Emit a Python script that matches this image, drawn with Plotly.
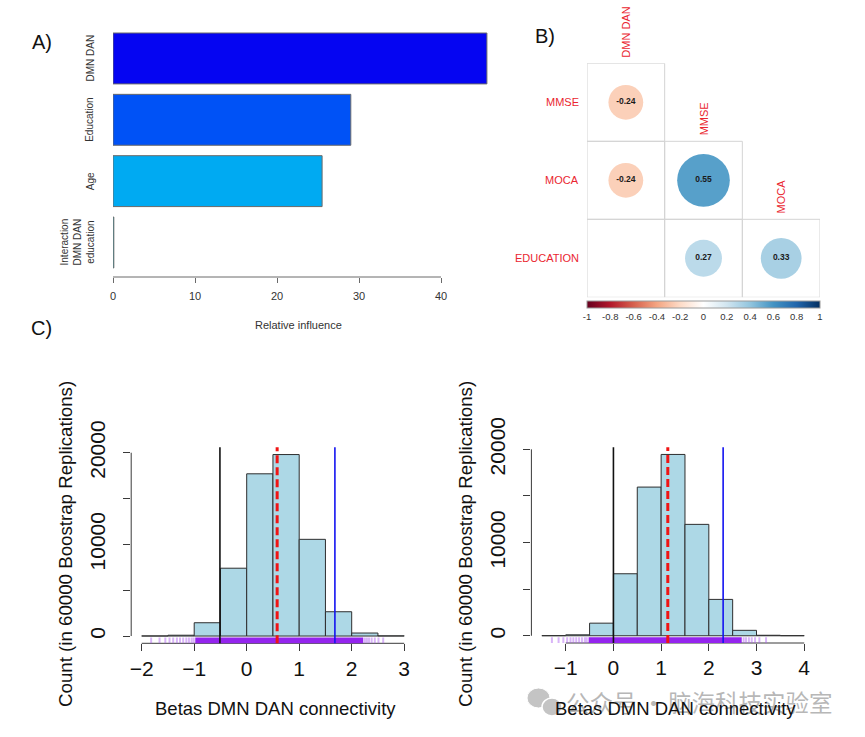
import plotly.graph_objects as go
import math

W, H = 865, 737
FONT = "Liberation Sans, Arial, Helvetica, sans-serif"


def fx(p):
    return p / W


def fy(p):
    return 1 - p / H


# ---------------- Panel A data: relative influence ----------------
infl_vars = ["DMN DAN", "Education", "Age", "Interaction<br>DMN DAN<br>education"]
infl_vals = [45.6, 29.0, 25.5, 0.1]
infl_colors = ["#0505F2", "#0052F6", "#00AAF2", "#00E5FF"]
infl_ticks = [0, 10, 20, 30, 40]

# ---------------- Panel B data: correlation matrix ----------------
corr_rows = ["MMSE", "MOCA", "EDUCATION"]
corr_cols = ["DMN DAN", "MMSE", "MOCA"]
corr_vals = [
    [-0.24, None, None],
    [-0.24, 0.55, None],
    [None, 0.27, 0.33],
]
cbar_ticks = [-1, -0.8, -0.6, -0.4, -0.2, 0, 0.2, 0.4, 0.6, 0.8, 1]
rdbu = ["#67001F", "#B2182B", "#D6604D", "#F4A582", "#FDDBC7", "#FFFFFF",
        "#D1E5F0", "#92C5DE", "#4393C3", "#2166AC", "#053061"]

# ---------------- Panel C data: bootstrap histograms ----------------
hist_edges_left = [-2, -1.5, -1, -0.5, 0, 0.5, 1, 1.5, 2, 2.5, 3]
hist_counts_left = [10, 90, 1450, 7400, 17700, 19800, 10550, 2650, 330, 20]
ci_left = [-0.51, 0.58, 1.68]          # lower, mean, upper
rug_dense_left = [-0.98, 2.22]
rug_tail_left = [-1.82, -1.66, -1.55, -1.47, -1.40, -1.33, -1.27, -1.21, -1.15,
                 -1.10, -1.05, -1.01, 2.25, 2.29, 2.33, 2.38, 2.44, 2.51, 2.60]
xticks_left = [-2, -1, 0, 1, 2, 3]

hist_edges_right = [-1.5, -1, -0.5, 0, 0.5, 1, 1.5, 2, 2.5, 3, 3.5, 4]
hist_counts_right = [10, 100, 1350, 6650, 15950, 19450, 11950, 3900, 580, 50, 10]
ci_right = [0.0, 1.14, 2.30]
rug_dense_right = [-0.52, 2.69]
rug_tail_right = [-1.29, -1.15, -1.05, -0.97, -0.90, -0.84, -0.78, -0.72, -0.66,
                  -0.60, -0.56, 2.73, 2.78, 2.84, 2.90, 2.97, 3.06, 3.20]
xticks_right = [-1, 0, 1, 2, 3, 4]

yticks_hist = [0, 5000, 10000, 15000, 20000]
ytick_text_hist = ["0", "", "10000", "", "20000"]
hist_xtitle = "Betas DMN DAN connectivity"
hist_ytitle = "Count (in 60000 Boostrap Replications)"

fig = go.Figure()
shapes = []
annotations = []

# ---------- Panel A ----------
fig.add_trace(go.Bar(
    x=infl_vals, y=list(range(len(infl_vars))), orientation="h",
    width=0.83, marker=dict(color=infl_colors, line=dict(color="#6A6A6A", width=1)),
    xaxis="x", yaxis="y", showlegend=False, hoverinfo="skip"))
shapes.append(dict(type="line", xref="x", yref="y domain", x0=infl_ticks[0], x1=infl_ticks[-1],
                   y0=0, y1=0, line=dict(color="#6A6A6A", width=1)))
for i, name in enumerate(infl_vars):
    annotations.append(dict(text=name, xref="paper", yref="y", x=fx(97.5), y=i,
                            xanchor="right", yanchor="middle", textangle=-90, showarrow=False,
                            font=dict(family=FONT, size=10, color="#333")))
annotations.append(dict(text="Relative influence", xref="paper", yref="paper", x=fx(298), y=fy(325),
                        xanchor="center", yanchor="middle", showarrow=False,
                        font=dict(family=FONT, size=11, color="#333")))

# ---------- Panel B ----------
bx, by, bs, bt, bc = [], [], [], [], []
for r, row in enumerate(corr_vals):
    for c, v in enumerate(row):
        if c <= r:
            shapes.append(dict(type="rect", xref="x2", yref="y2", x0=c - 0.5, x1=c + 0.5,
                               y0=r - 0.5, y1=r + 0.5, line=dict(color="#D4D4D4", width=1),
                               layer="below"))
        if v is not None:
            bx.append(c)
            by.append(r)
            bs.append(71 * math.sqrt(abs(v)))
            bt.append("<b>%.2f</b>" % v)
            bc.append(v)
colorscale = [[i / (len(rdbu) - 1), col] for i, col in enumerate(rdbu)]
fig.add_trace(go.Scatter(
    x=bx, y=by, mode="markers+text", text=bt, textposition="middle center",
    textfont=dict(family=FONT, size=8.5, color="#1A1A1A"),
    marker=dict(size=bs, color=bc, cmin=-1, cmax=1, colorscale=colorscale,
                line=dict(width=0), opacity=1,
                colorbar=dict(orientation="h", lenmode="pixels", len=233, thickness=7,
                              x=fx(703.5), xanchor="center", y=fy(300.5), yanchor="top",
                              xpad=0, ypad=0, outlinewidth=1, outlinecolor="#9A9A9A",
                              tickvals=cbar_ticks, ticktext=["%g" % t for t in cbar_ticks],
                              ticks="", tickfont=dict(family=FONT, size=9.5, color="#333"))),
    xaxis="x2", yaxis="y2", showlegend=False, hoverinfo="skip"))
red = "#EA2630"
for r, name in enumerate(corr_rows):
    annotations.append(dict(text=name, xref="x2", yref="y2", x=-0.5, y=r, xshift=-6,
                            xanchor="right", yanchor="middle", showarrow=False,
                            font=dict(family=FONT, size=11, color=red)))
for c, name in enumerate(corr_cols):
    annotations.append(dict(text=name, xref="x2", yref="y2", x=c, y=c - 0.5, yshift=4,
                            xanchor="center", yanchor="bottom", textangle=-90, showarrow=False,
                            font=dict(family=FONT, size=11, color=red)))


# ---------- Panel C ----------
def add_hist(edges, counts, ci, rug_dense, rug_tail, xticks, xa, ya):
    centers = [(edges[i] + edges[i + 1]) / 2 for i in range(len(counts))]
    widths = [edges[i + 1] - edges[i] for i in range(len(counts))]
    fig.add_trace(go.Bar(x=centers, y=counts, width=widths, xaxis=xa, yaxis=ya,
                         marker=dict(color="#ADD8E6", line=dict(color="#2E2E2E", width=1)),
                         showlegend=False, hoverinfo="skip"))
    xd = xa + " domain"
    yd = ya + " domain"
    # axis lines (R style: from first to last tick)
    shapes.append(dict(type="line", xref=xa, yref=yd, x0=xticks[0], x1=xticks[-1], y0=0, y1=0,
                       line=dict(color="#3A3A3A", width=1)))
    shapes.append(dict(type="line", xref=xd, yref=ya, x0=0, x1=0, y0=yticks_hist[0],
                       y1=yticks_hist[-1], line=dict(color="#3A3A3A", width=1)))
    # rug
    shapes.append(dict(type="rect", xref=xa, yref=yd, x0=rug_dense[0], x1=rug_dense[1],
                       y0=0.0, y1=0.03, fillcolor="#9424EE", line=dict(width=0), layer="above"))
    for t in rug_tail:
        shapes.append(dict(type="line", xref=xa, yref=yd, x0=t, x1=t, y0=0.0, y1=0.03,
                           line=dict(color="rgba(170,90,240,0.45)", width=2), layer="above"))
    # CI / mean lines
    styles = [dict(color="#111111", width=1.6), dict(color="#F01414", width=3, dash="8px,4px"),
              dict(color="#1414F0", width=1.6)]
    for v, st in zip(ci, styles):
        shapes.append(dict(type="line", xref=xa, yref=yd, x0=v, x1=v, y0=0, y1=1,
                           line=st, layer="above"))


add_hist(hist_edges_left, hist_counts_left, ci_left, rug_dense_left, rug_tail_left,
         xticks_left, "x3", "y3")
add_hist(hist_edges_right, hist_counts_right, ci_right, rug_dense_right, rug_tail_right,
         xticks_right, "x4", "y4")


def xr(edges):
    span = edges[-1] - edges[0]
    return [edges[0] - 0.04 * span, edges[-1] + 0.04 * span]


def yr(counts):
    m = max(counts)
    return [-0.04 * m, 1.04 * m]


# watermark
shapes.append(dict(type="circle", xref="paper", yref="paper", x0=fx(527), x1=fx(550),
                   y0=fy(708), y1=fy(688), fillcolor="#C4C4C4", line=dict(color="white", width=1)))
shapes.append(dict(type="circle", xref="paper", yref="paper", x0=fx(542), x1=fx(562),
                   y0=fy(716), y1=fy(698), fillcolor="#C4C4C4", line=dict(color="white", width=1.5)))
wm_font = dict(family="Noto Sans CJK SC", size=23.5, color="rgba(160,160,160,0.75)")
annotations.append(dict(text="公众号 ·", xref="paper", yref="paper", x=fx(564), y=fy(702),
                        xanchor="left", yanchor="middle", showarrow=False, font=wm_font))
annotations.append(dict(text="脑海科技实验室", xref="paper", yref="paper", x=fx(666), y=fy(702),
                        xanchor="left", yanchor="middle", showarrow=False, font=wm_font))

for cx in (275, 675):
    annotations.append(dict(text=hist_xtitle, xref="paper", yref="paper", x=fx(cx), y=fy(708),
                            xanchor="center", yanchor="middle", showarrow=False,
                            font=dict(family=FONT, size=18.5, color="#111")))
for cx in (65, 465):
    annotations.append(dict(text=hist_ytitle, xref="paper", yref="paper", x=fx(cx), y=fy(544),
                            xanchor="center", yanchor="middle", textangle=-90, showarrow=False,
                            font=dict(family=FONT, size=18.7, color="#111")))

for lab, (px, py) in {"A)": (42, 42), "B)": (545, 36), "C)": (41, 328)}.items():
    annotations.append(dict(text=lab, xref="paper", yref="paper", x=fx(px), y=fy(py),
                            xanchor="center", yanchor="middle", showarrow=False,
                            font=dict(family=FONT, size=20, color="#111")))

common_hidden = dict(showgrid=False, zeroline=False, showline=False, automargin=False)
hist_x = dict(showgrid=False, zeroline=False, showline=False, automargin=False, ticks="outside",
              ticklen=7, tickcolor="#3A3A3A", tickfont=dict(family=FONT, size=21, color="#111"),
              ticklabelstandoff=-1)
hist_y = dict(showgrid=False, zeroline=False, showline=False, automargin=False, ticks="outside",
              ticklen=7, tickcolor="#3A3A3A", tickfont=dict(family=FONT, size=21, color="#111"),
              tickvals=yticks_hist, ticktext=ytick_text_hist, tickangle=-90,
              ticklabelstandoff=10)

fig.update_layout(
    width=W, height=H, margin=dict(l=0, r=0, t=0, b=0, autoexpand=False),
    paper_bgcolor="white", plot_bgcolor="white", showlegend=False,
    font=dict(family=FONT),
    xaxis=dict(domain=[fx(113), fx(490.2)], range=[0, 46], tickvals=infl_ticks, ticks="outside",
               ticklen=5, tickcolor="#6A6A6A", tickfont=dict(family=FONT, size=11, color="#333"),
               ticklabelstandoff=4, anchor="y", **common_hidden),
    yaxis=dict(domain=[fy(277), fy(27.8)], range=[3.563, -0.5], showticklabels=False,
               anchor="x", **common_hidden),
    xaxis2=dict(domain=[fx(587), fx(820)], range=[-0.5, 2.5], showticklabels=False,
                anchor="y2", **common_hidden),
    yaxis2=dict(domain=[fy(297.3), fy(63.3)], range=[2.5, -0.5], showticklabels=False,
                anchor="x2", **common_hidden),
    xaxis3=dict(domain=[fx(131.2), fx(414.7)], range=xr(hist_edges_left), tickvals=xticks_left,
                anchor="y3", **hist_x),
    yaxis3=dict(domain=[fy(643.3), fy(447.3)], range=yr(hist_counts_left), anchor="x3", **hist_y),
    xaxis4=dict(domain=[fx(531.4), fx(814.7)], range=xr(hist_edges_right), tickvals=xticks_right,
                anchor="y4", **hist_x),
    yaxis4=dict(domain=[fy(643.0), fy(447.2)], range=yr(hist_counts_right), anchor="x4", **hist_y),
    shapes=shapes, annotations=annotations,
)

fig.write_html("out.html", config={"displayModeBar": False},
               post_script="document.body.style.margin='0px';document.body.style.padding='0px';")
